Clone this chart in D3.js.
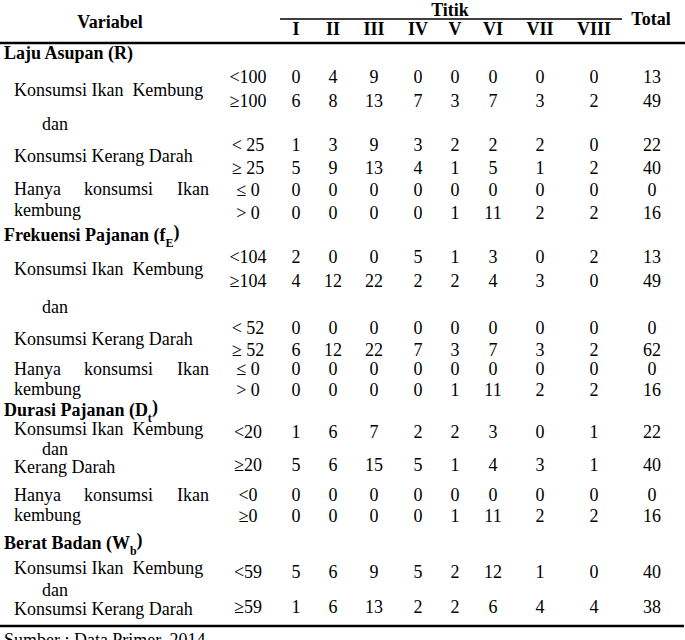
<!DOCTYPE html>
<html><head><meta charset="utf-8">
<script src="https://cdn.jsdelivr.net/npm/d3@7"></script>
<style>
html,body{margin:0;padding:0;background:#fff;}
svg text{font-family:"Liberation Serif","Times New Roman",serif;fill:#000;white-space:pre;}
</style></head>
<body>
<svg id="t" width="685" height="640"></svg>
<script>
// ---- data ----
const columns = ["I","II","III","IV","V","VI","VII","VIII"];
const sections = [
  {name:"Laju Asupan (", sub:"R", subSmall:false},
  {name:"Frekuensi Pajanan (f", sub:"E", subSmall:true},
  {name:"Durasi Pajanan (D", sub:"t", subSmall:true},
  {name:"Berat Badan (W", sub:"b", subSmall:true}
];
const lajuConditions = ["<100","\u2265100","< 25","\u2265 25","\u2264 0","> 0"];
const lajuValues = [[0,4,9,0,0,0,0,0],[6,8,13,7,3,7,3,2],[1,3,9,3,2,2,2,0],[5,9,13,4,1,5,1,2],[0,0,0,0,0,0,0,0],[0,0,0,0,1,11,2,2]];
const lajuTotals = [13,49,22,40,0,16];
const frekConditions = ["<104","\u2265104","< 52","\u2265 52","\u2264 0","> 0"];
const frekValues = [[2,0,0,5,1,3,0,2],[4,12,22,2,2,4,3,0],[0,0,0,0,0,0,0,0],[6,12,22,7,3,7,3,2],[0,0,0,0,0,0,0,0],[0,0,0,0,1,11,2,2]];
const frekTotals = [13,49,0,62,0,16];
const durasiConditions = ["<20","\u226520","<0","\u22650"];
const durasiValues = [[1,6,7,2,2,3,0,1],[5,6,15,5,1,4,3,1],[0,0,0,0,0,0,0,0],[0,0,0,0,1,11,2,2]];
const durasiTotals = [22,40,0,16];
const beratConditions = ["<59","\u226559"];
const beratValues = [[5,6,9,5,2,12,1,0],[1,6,13,2,2,6,4,4]];
const beratTotals = [40,38];
const lajuLabels = ["Konsumsi Ikan  Kembung","dan","Konsumsi Kerang Darah","HANYA","kembung"];
const frekLabels = ["Konsumsi Ikan  Kembung","dan","Konsumsi Kerang Darah","HANYA","kembung"];
const durasiLabels = ["Konsumsi Ikan  Kembung","dan","Kerang Darah","HANYA","kembung"];
const beratLabels = ["Konsumsi Ikan  Kembung","dan","Konsumsi Kerang Darah"];
const hanyaWords = ["Hanya","konsumsi","Ikan"];
const footnote = "Sumber : Data Primer, 2014";

// ---- layout ----
const svg = d3.select("#t");
const FS = 18, SY = 1.05;
const x = d3.scaleOrdinal().domain(columns.concat(["Total"])).range([296,333,374,418,455,493,540,594,652]);
const condX = 248;
const blocks = [
  {cond:lajuConditions, vals:lajuValues, tot:lajuTotals, labels:lajuLabels,
   titleY:53, rowY:[77,101,145,168,190,213], labY:[90,124,156,189,210]},
  {cond:frekConditions, vals:frekValues, tot:frekTotals, labels:frekLabels,
   titleY:235, rowY:[257,281,328,350,369,390], labY:[269,307,339,369,389]},
  {cond:durasiConditions, vals:durasiValues, tot:durasiTotals, labels:durasiLabels,
   titleY:410, rowY:[432,465,495,516], labY:[429,449,467,495,515]},
  {cond:beratConditions, vals:beratValues, tot:beratTotals, labels:beratLabels,
   titleY:543, rowY:[572,607], labY:[568,590,609]}
];

function txt(g, s, xx, yy, anchor, bold){
  return g.append("text").attr("transform",`translate(${xx},${yy}) scale(1,${SY})`)
    .attr("dy","0.33em")
    .attr("text-anchor",anchor||"start").attr("font-size",FS)
    .attr("font-weight",bold?"bold":"normal").text(s);
}

// header
txt(svg,"Variabel",110,22,"middle",true);
txt(svg,"Titik",450,10,"middle",true);
txt(svg,"Total",651,19,"middle",true);
columns.forEach(c=>txt(svg,c,x(c),29,"middle",true));
svg.append("line").attr("x1",280).attr("x2",622).attr("y1",19).attr("y2",19).attr("stroke","#000").attr("stroke-width",1.5);
svg.append("line").attr("x1",0).attr("x2",685).attr("y1",43).attr("y2",43).attr("stroke","#000").attr("stroke-width",2.5);

blocks.forEach((b,bi)=>{
  const g = svg.append("g");
  const s = sections[bi];
  const t = txt(g,s.name,4,b.titleY,"start",true);
  t.append("tspan").attr("font-size",s.subSmall?12:FS).attr("dy",s.subSmall?"0.45em":"0").text(s.sub);
  t.append("tspan").attr("dy",s.subSmall?"-0.45em":"0").text(")");
  b.cond.forEach((c,i)=>{
    txt(g,c,condX,b.rowY[i],"middle",false);
    b.vals[i].forEach((v,j)=>txt(g,String(v),x(columns[j]),b.rowY[i],"middle",false));
    txt(g,String(b.tot[i]),x("Total"),b.rowY[i],"middle",false);
  });
  b.labels.forEach((l,i)=>{
    if(l==="HANYA"){
      const hx=[14,84,177];
      hanyaWords.forEach((w,k)=>txt(g,w,hx[k],b.labY[i],"start",false));
    } else {
      txt(g,l,l==="dan"?42:14,b.labY[i],"start",false);
    }
  });
});

svg.append("line").attr("x1",0).attr("x2",684).attr("y1",626).attr("y2",626).attr("stroke","#000").attr("stroke-width",2.5);
txt(svg,footnote,4,640,"start",false);
</script>
</body></html>
